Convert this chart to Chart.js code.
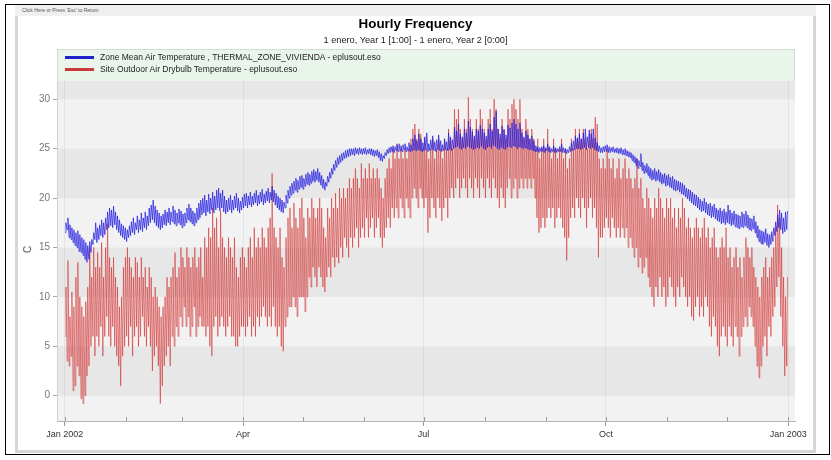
<!DOCTYPE html>
<html><head><meta charset="utf-8">
<script src="https://cdn.jsdelivr.net/npm/chart.js@4/dist/chart.umd.min.js"></script>
<style>
html,body{margin:0;padding:0;background:#fff;}
body{width:831px;height:460px;position:relative;overflow:hidden;font-family:'Liberation Sans',Arial,sans-serif;}
.abs{position:absolute;}
#frame{left:5px;top:4px;width:825px;height:451px;border:1.5px solid #000;box-sizing:border-box;}
#win{left:15px;top:5px;width:801px;height:448px;background:#fff;border:3px solid #d6d6d6;border-top:none;box-sizing:border-box;}
#bar{left:15px;top:5px;width:801px;height:11px;background:#f0f0f0;}
#esc{left:22px;top:7px;font-size:5px;color:#555;white-space:nowrap;}
#title{left:0;width:831px;top:16px;text-align:center;font-weight:bold;font-size:13.4px;color:#000;}
#sub{left:0;width:831px;top:35px;text-align:center;font-size:9.2px;color:#222;}
#legend{left:57px;top:49px;width:738px;height:32px;background:#e9f4ea;border:1px solid #d3ddd3;border-bottom:none;box-sizing:border-box;}
.lrow{position:absolute;left:7px;height:12px;font-size:8.5px;color:#222;white-space:nowrap;}
.lline{position:absolute;left:0;top:5px;width:29px;height:3px;}
.ltxt{position:absolute;left:35px;top:0;line-height:12px;}
#ylab{left:24px;top:244px;font-size:10px;color:#444;transform:rotate(-90deg);}
#wrap{left:20px;top:16px;width:792px;height:434px;}
</style></head>
<body>
<div id="frame" class="abs"></div>
<div id="win" class="abs"></div>
<div id="bar" class="abs"></div>
<div id="esc" class="abs">Click Here or Press 'Esc' to Return</div>
<div id="wrap" class="abs"><canvas id="c" width="792" height="434" style="width:792px;height:434px"></canvas></div>
<div id="title" class="abs">Hourly Frequency</div>
<div id="sub" class="abs">1 enero, Year 1 [1:00] - 1 enero, Year 2 [0:00]</div>
<div id="legend" class="abs">
  <div class="lrow" style="top:1px"><div class="lline" style="background:#2222cc"></div><div class="ltxt" id="lt0"></div></div>
  <div class="lrow" style="top:13px"><div class="lline" style="background:#c83a3a"></div><div class="ltxt" id="lt1"></div></div>
</div>
<div id="ylab" class="abs">C</div>
<script>
// ---------- DATA (one low/high pair per day of 2002) ----------
const seriesNames = ['Zone Mean Air Temperature , THERMAL_ZONE_VIVIENDA - eplusout.eso',
                     'Site Outdoor Air Drybulb Temperature  - eplusout.eso'];
const monthStarts = [0,31,59,90,120,151,181,212,243,273,304,334,365];
const monthLabels = ['Jan 2002','','','Apr','','','Jul','','','Oct','','','Jan 2003'];
const yTicks = [0,5,10,15,20,25,30];

const zoneLow = [
16.5,16.8,16,15.8,15.5,15.2,15,14.6,14.5,14.2,
13.8,13.5,13.8,14.5,15.3,15.8,15.5,15.8,16.2,16,
16.3,16.8,17,17.2,17,17.3,16.8,16.5,16.2,16,
15.8,15.6,16,16.2,16.5,16.3,16.8,16.5,16.8,16.6,
17,16.8,17.2,17.5,17.8,17.5,17.2,17,16.8,17,
17.3,17.2,17.5,17.3,17.6,17.4,17.2,17.5,17.3,17,
17.2,17.5,17.8,17.6,17.4,17.2,17.5,17.8,18,18.3,
18.5,18.2,18.6,18.4,18.8,18.5,18.8,19,18.7,19,
18.6,18.4,18.6,18.8,18.5,18.8,19,18.7,18.5,18.8,
19,19.2,19,19.3,19.1,19.3,19.5,19.2,19.4,19.6,
19.3,19.5,19.7,19.5,19.8,19.6,19.3,19,18.8,18.6,
18.5,19,19.5,20,20.3,20.5,20.8,20.6,20.9,21.1,
20.9,21.2,21.4,21.3,21.5,21.7,21.6,21.8,21.6,21.3,
21,20.8,21.2,21.6,22,22.4,22.8,23.1,23.4,23.6,
23.8,24,24.1,24.2,24.3,24.4,24.3,24.5,24.4,24.5,
24.4,24.5,24.4,24.5,24.4,24.3,24.2,24.3,24.1,23.8,
23.7,24,24.3,24.5,24.6,24.7,24.6,24.8,24.7,24.8,
24.7,24.9,24.7,24.8,24.7,24.8,24.9,24.8,24.9,24.8,
24.7,24.8,24.9,24.7,24.8,24.9,24.8,24.7,24.9,24.8,
24.7,24.8,24.9,24.8,24.9,24.8,25,25.1,25.2,25,
24.9,25.1,25,25.2,25.1,25,24.9,25,25.1,25,
25.2,25,24.9,25.1,25.2,25,25.3,25.2,25,24.9,
25.1,25,24.9,25.1,25.2,25.1,25.3,25.2,25,25.2,
25.1,25,25.1,25,24.9,24.9,24.8,24.7,24.7,24.6,
24.7,24.7,24.6,24.8,24.7,24.6,24.7,24.6,24.6,24.7,
24.7,24.6,24.6,24.5,24.6,24.7,24.8,24.9,25,25,
24.9,25,25.1,24.9,25.1,25,25.1,24.9,24.8,24.7,
24.6,24.6,24.7,24.7,24.6,24.6,24.7,24.6,24.6,24.5,
24.5,24.4,24.4,24.3,24.2,24.1,23.8,23.6,23.3,23,
23.2,22.8,22.5,22.6,22.3,22,21.8,21.9,21.7,21.8,
21.6,21.4,21.5,21.2,21.3,21.1,21,20.8,20.7,20.8,
20.6,20.4,20.3,20.1,19.9,19.7,19.5,19.3,19.2,19,
18.8,18.6,18.7,18.5,18.3,18.2,18,18.1,17.9,17.7,
17.6,17.4,17.5,17.3,17.5,17.4,17.2,17.3,17.1,17,
16.9,17.1,17,17.2,17,16.8,16.7,16.9,16.5,16,
15.6,15.4,15.3,15.5,15.2,15,15.3,15.6,16.2,16.6,
17,16.8,16.4,16.6,16.8];
const zoneHigh = [
17.5,18,17.3,17,16.8,16.5,16.7,16.3,16,15.8,
15.5,15.2,15.6,15.8,16.5,17.5,17,17.3,17.8,17.5,
18,18.6,19,18.8,19.2,18.6,18.2,17.8,17.4,17.2,
17,16.8,17.2,17.6,18,17.5,18.2,17.8,18.5,18,
18.6,18.2,19,19.3,19.8,19.2,18.8,18.5,18.2,18.4,
18.8,18.6,19,18.6,19.2,18.8,18.5,18.9,18.7,18.4,
18.5,19,19.4,19,18.7,18.5,19,19.5,19.8,20,
20.3,19.8,20.4,20,20.6,20.2,20.8,21,20.5,20.8,
20.2,19.8,20,20.3,19.8,20.2,20.5,20,19.7,20.1,
20.4,20.5,20.2,20.6,20.2,20.5,20.8,20.3,20.6,20.9,
20.4,20.7,21,20.6,21.2,20.8,20.5,20.2,20,19.8,
19.6,20.3,20.8,21.2,21.5,21.7,22,21.8,22.2,22.3,
22,22.4,22.6,22.4,22.7,22.9,22.7,23,22.6,22.3,
21.9,21.6,22.2,22.6,23,23.4,23.8,24.1,24.3,24.5,
24.6,24.8,24.9,25,25,25,25.1,25,25.1,25,
25,25.1,24.9,25,25,24.9,24.8,24.9,24.7,24.5,
24.3,24.6,24.9,25.1,25.2,25.3,25.2,25.4,25.5,25.3,
25.4,25.5,25.2,25.6,25.4,26,26.4,25.8,26.5,26,
25.6,26.2,26.6,25.5,25.9,26.3,25.7,25.9,26.4,25.8,
25.4,26,25.7,26.6,26.2,25.9,27.2,26.8,27.5,26.5,
26.2,27,26.6,27.8,27.2,26.7,26.3,27,26.8,27.4,
27,26.6,26.3,27,27.5,26.8,28.2,28.8,27,26.5,
27.3,26.9,26.4,27.4,27.1,27.6,28,27.5,27,27.6,
26.6,26.2,26.8,26.4,26,26.3,25.8,25.3,25.2,25.1,
25.2,25.3,25.1,25.5,25.2,25,25.3,25.1,25,25.2,
25.5,25.1,25,24.9,25.2,25.6,25.8,26.3,26.1,26.5,
26,26.6,27,26.2,26.9,26.5,27,26.1,25.6,25.3,
25.1,25.2,25.3,25.4,25.2,25.1,25.2,25,25.1,25,
25.1,24.9,25,24.8,24.7,24.6,24.4,24.2,24,23.8,
24.5,23.6,23.3,23.5,23.2,23,22.8,23,22.7,22.9,
22.6,22.4,22.5,22.3,22.4,22.1,22.2,21.9,21.8,21.7,
21.6,21.5,21.3,21,20.9,20.8,20.6,20.4,20.3,20.1,
19.9,19.7,20,19.6,19.4,19.5,19.2,19.4,19,18.8,
19,18.7,18.9,18.6,19.3,18.8,18.5,18.7,18.4,18.3,
18.2,18.6,18.4,18.7,18.3,18,17.9,18.2,17.6,17.2,
16.8,16.7,16.6,16.9,16.4,16.3,16.6,17,17.6,18.3,
18.8,18.5,18,18.6,18.7];
const outdoorLow = [
6,3.5,3,4,0.5,1,3,2,-0.3,-0.8,
0,2,3,5,6,4,6,5,7,4,
6,8,6,5,7,5,4,3,1,4,
5,6,5,7,4,6,7,5,6,8,
6,5,7,5,2.5,4,5,3,-0.8,1,
3,4,5,3,6,5,7,6,8,7,
9,7,8,6,7,9,6,7,8,7,
7,6,7,5,4,7,8,6,7,8,
7,6,7,8,6,6,5,5,6,7,
7,6,7,8,6,7,6,8,7,8,
9,8,7,8,7,9,7,6,7,5,
4.5,7,8,9,9,10,9,8,10,10,
10,8.5,10,12,11,13,12,11,13,12,
11,10.5,12,13,12,14,13,14,13.4,15,
14,16,15,14,16,15,16,17,15,16,
17,16,18,16,17,18,16,17,18,16,
15,16,17,18,17,19,18,19,18,20,
19,18,20,19,18,20,21,20,19,21,
20,19,20,16.5,18,20,19,18,20,19,
17.7,19,20,18,20,21,20,21,22,20,
21,22,21,20,22,21,20,22,21,20,
22,21,20,22,21,20,22,21,20,19,
21,20,19,21,22,20,21,22,20,21,
22,21,22,21,22,21,22,20,18,16.5,
17,18,17,18,19,18,19,17,18,19,
18,17,16,13.7,16,18,19,18,20,19,
18,20,19,17,19,20,18,19,17,14,
16,16,17,18,17,16,18,17,16,17,
16,17,16,17,15,16,15,14,15,13,
14,12.4,13,14,12,11,10,9,11,10,
12,10,11,9,10,12,11,10,9,11,
10,12,11,10,9,10,8,7.6,9,10,
8,9,8,10,9,7,6,8,7,5,
4,6,7,6,5,7,6,5,7,6,
4,6,7,8,7,9,8,7,5,3,
1.8,3,5,6,4,7,6,8,9,11,
12,8,5,2,3];
const outdoorHigh = [
11,13.7,8,10.5,9,12,13.5,10,9,8,
9.5,11,15,12,15,13,14.5,13,15.5,12,
15,17.4,14,13,14,12,11,9,10,13,
14,15,14,13,12,14,13.5,12,14,12,
13,11,13,12,10,11,10,9,8,9,
10,12,11,12,13,14.5,12,13,15,14,
13,15,14,13,14,15,13,14,15,12,
16,15,17,16,19,17,18,15,18.7,16,
15,14,16,15,14,16,13,12,14,15,
14,13,15,16,14,17,15,16,15,17,
16,15,17,18,22.5,17,16,15,17,14,
13,16,18,19,17,19.5,18,17,19,20,
18,16,19,18,20,19,18,19,20,19,
17,16,19,18,20,19,20.5,19,21,20,
21,20,21,22,21,22,23,22,21,23.5,
22,23,22,23.5,22,23,22,23,22,21,
20,22,23,24,23,25,24,25.5,24,25,
24,25,24,25,26,27,27.5,26,27,26.5,
25,26,25,24,25,26,24,25,26,25,
24,26,25,27,26,25,29,28,29,27,
26,28,27,30.2,28,27,26,28,27,29,
28,27,26,28,29,27,30,29,27,26,
28,27,26,29,28,29.5,30,29,28,30,
27,26,28,27,26,27,26,25,26,24,
25,26,25,27,25,24,26,25,24,25,
26,24,25,23,24,26,25,27,26,27,
26,27,26,25,26.5,27,26,28.2,27.5,24,
23,24,23,25,24,23,24,22,23,24,
22,23,24,22,23,22,21,22,24,21,
22,20,19,21,20,19,18,20,19,21,
20,19,18,20,19,20,18,19,17,19,
18,20,19,17,18,17,16,17,18,17,
16,17,18,16,17,15,16,17,15,14,
15,16,15,17,14,15,13,14,15,13,
14,12,14,16,15,14,15,13,12,11,
10,12,13,14,12,13,14,15,17,19.3,
18,15,12,10,12];

// ---------- build line points (low in the morning, high in the afternoon) ----------
function dailyPoints(low, high){
  const pts = [];
  for (let d = 0; d < low.length; d++){
    pts.push({x: d + 0.25, y: low[d]});
    pts.push({x: d + 0.63, y: high[d]});
  }
  return pts;
}

document.getElementById('lt0').textContent = seriesNames[0];
document.getElementById('lt1').textContent = seriesNames[1];

const bandsPlugin = {
  id: 'bands',
  beforeDraw(chart){
    const {ctx, chartArea:{left,right,top,bottom}, scales:{y}} = chart;
    ctx.save();
    ctx.fillStyle = '#f2f2f2';
    ctx.fillRect(left, top, right-left, bottom-top);
    ctx.beginPath(); ctx.rect(left, top, right-left, bottom-top); ctx.clip();
    for (let v = -5; v < 40; v += 5){
      const dark = (((v/5) % 2) + 2) % 2 === 0;
      if (!dark) continue;
      const y1 = y.getPixelForValue(v + 5), y2 = y.getPixelForValue(v);
      ctx.fillStyle = '#e7e7e7';
      ctx.fillRect(left, y1, right-left, y2-y1);
    }
    ctx.restore();
  },
  afterDatasetsDraw(chart){
    const {ctx, chartArea:{bottom}, scales:{x}} = chart;
    ctx.save();
    ctx.strokeStyle = '#9a9a9a'; ctx.lineWidth = 1;
    monthStarts.forEach(m => {
      const px = Math.round(x.getPixelForValue(m)) + 0.5;
      ctx.beginPath(); ctx.moveTo(px, bottom); ctx.lineTo(px, bottom - 4); ctx.stroke();
    });
    ctx.restore();
  }
};

new Chart(document.getElementById('c'), {
  type: 'line',
  data: {
    datasets: [
      {label: seriesNames[0], data: dailyPoints(zoneLow, zoneHigh), borderColor: 'rgba(32,28,225,0.9)', borderWidth: 0.8, pointRadius: 0, tension: 0, fill: false},
      {label: seriesNames[1], data: dailyPoints(outdoorLow, outdoorHigh), borderColor: 'rgba(210,45,45,0.72)', borderWidth: 0.8, pointRadius: 0, tension: 0, fill: false}
    ]
  },
  options: {
    responsive: false, animation: false, maintainAspectRatio: false, parsing: false,
    layout: {padding: {left: 0, right: 17, top: 65, bottom: 0}},
    plugins: {legend: {display: false}, tooltip: {enabled: false}, title: {display: false}},
    scales: {
      x: {
        type: 'linear', min: -3.88, max: 368.4,
        afterBuildTicks: s => { s.ticks = monthStarts.map(v => ({value: v})); },
        afterFit: s => { s.height = 29; },
        ticks: {autoSkip: false, maxRotation: 0, padding: 3, color: '#333',
                font: {family: "'Liberation Sans', Arial, sans-serif", size: 9},
                callback: (v, i) => monthLabels[i]},
        grid: {drawOnChartArea: true, tickLength: 5,
               color: c => (c.index !== undefined && monthLabels[c.index]) ? 'rgba(0,0,0,0.06)' : 'rgba(0,0,0,0)',
               tickColor: c => (c.index !== undefined && monthLabels[c.index]) ? '#9a9a9a' : 'rgba(0,0,0,0)'},
        border: {color: '#b4b4b4'}
      },
      y: {
        min: -2.56, max: 31.85,
        afterBuildTicks: s => { s.ticks = yTicks.map(v => ({value: v})); },
        afterFit: s => { s.width = 37; },
        ticks: {padding: 3, color: '#777', font: {family: "'Liberation Sans', Arial, sans-serif", size: 10}},
        grid: {drawOnChartArea: false, tickLength: 4, tickColor: '#aaa'},
        border: {color: '#d0d0d0'}
      }
    }
  },
  plugins: [bandsPlugin]
});
</script>
</body></html>
